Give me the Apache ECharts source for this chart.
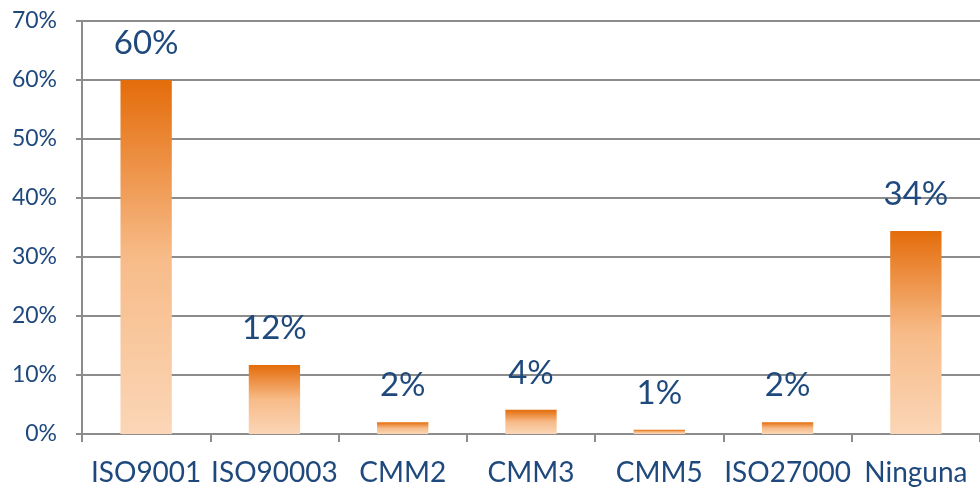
<!DOCTYPE html>
<html>
<head>
<meta charset="utf-8">
<script src="https://cdn.jsdelivr.net/npm/echarts@6/dist/echarts.min.js"></script>
<style>
  html, body { margin: 0; padding: 0; background: #fff; }
  #chart { width: 980px; height: 488px; }
</style>
</head>
<body>
<div id="chart"></div>
<script>
const categories = ['ISO9001', 'ISO90003', 'CMM2', 'CMM3', 'CMM5', 'ISO27000', 'Ninguna'];
const percentValues = [60, 11.7, 2, 4.1, 0.7, 2, 34.4];
const yTicks = [0, 10, 20, 30, 40, 50, 60, 70];

const chart = echarts.init(document.getElementById('chart'));
const navy = '#1F497D';
const gray = '#8C8C8C';

chart.setOption({
  animation: false,
  textStyle: { fontFamily: 'Lato' },
  grid: { left: 82, right: -3, top: 21, bottom: 54 },
  xAxis: {
    type: 'category',
    data: categories,
    axisLine: { lineStyle: { color: gray, width: 2 } },
    axisTick: { show: true, length: 8, lineStyle: { color: gray, width: 2 } },
    axisLabel: { color: navy, fontSize: 28, margin: 25, interval: 0 }
  },
  yAxis: {
    type: 'value',
    min: yTicks[0],
    max: yTicks[yTicks.length - 1],
    interval: 10,
    axisLine: { show: true, lineStyle: { color: gray, width: 2 } },
    axisTick: { show: true, length: 6, lineStyle: { color: gray, width: 2 } },
    splitLine: { lineStyle: { color: gray, width: 2 } },
    axisLabel: { color: navy, fontSize: 23, margin: 25, formatter: v => v + '%' }
  },
  series: [{
    type: 'bar',
    data: percentValues,
    barWidth: '40%',
    itemStyle: {
      color: new echarts.graphic.LinearGradient(0, 0, 0, 1, [
        { offset: 0, color: '#E46C0A' },
        { offset: 0.5, color: '#F7BB88' },
        { offset: 1, color: '#FBD6B7' }
      ])
    },
    label: {
      show: true,
      position: 'top',
      distance: 20,
      color: navy,
      fontSize: 33,
      formatter: p => Math.round(p.value) + '%'
    }
  }]
});
</script>
</body>
</html>
